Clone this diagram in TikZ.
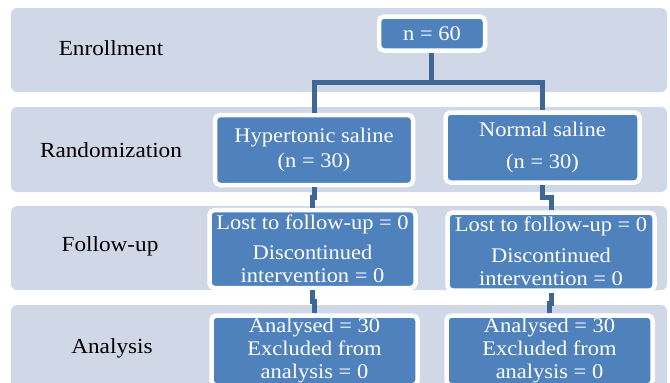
\documentclass[tikz,border=0pt]{standalone}
\usepackage{fontspec}
\setmainfont[FakeStretch=1.08]{Liberation Serif}
\usetikzlibrary{calc}
\definecolor{bandc}{HTML}{D0D7E7}
\definecolor{boxc}{HTML}{4F81BD}
\definecolor{linec}{HTML}{3F6796}
\tikzset{
  band/.style={fill=bandc, rounded corners=6pt},
  lbl/.style={text=black, font=\fontsize{21.5}{24}\selectfont},
  box/.style={fill=boxc, draw=white, line width=4.5pt, rounded corners=5pt,
    text=white, inner sep=0pt, align=center, font=\fontsize{20.8}{23}\selectfont},
  conn/.style={draw=linec, line width=5pt}
}
\begin{document}
\begin{tikzpicture}[x=1pt,y=-1pt]
\useasboundingbox (0,0) rectangle (670,383);
\clip (0,0) rectangle (670,383);
% bands
\fill[band] (11,8) rectangle (667,92);
\fill[band] (11,107) rectangle (667,192);
\fill[band] (11,206) rectangle (667,290);
\fill[band] (11,305) rectangle (667,400);
% stage labels
\node[lbl] (lenr) at (111,48) {Enrollment};
\node[lbl] (lran) at (111,150) {Randomization};
\node[lbl] (lfol) at (110,246) {Follow-up};
\node[lbl] (lana) at (112,348) {Analysis};
% boxes
\node[box, minimum width=106pt, minimum height=34pt] (n60) at (432,33.5) {n = 60};
\node[box, minimum width=198pt, minimum height=70pt] (hyp) at (314,150) {Hypertonic saline\\[2pt](n = 30)};
\node[box, minimum width=194pt, minimum height=70pt] (norm) at (542.5,147.5) {Normal saline\\[9pt](n = 30)};
\node[box, minimum width=206pt, minimum height=78pt] (ful) at (312.5,249) {Lost to follow-up = 0\\[7pt]Discontinued\\intervention = 0};
\node[box, minimum width=207pt, minimum height=78pt] (fur) at (551,251.5) {Lost to follow-up = 0\\[8pt]Discontinued\\intervention = 0};
\node[box, minimum width=206pt, minimum height=70pt] (anl) at (314.5,350.5) {Analysed = 30\\Excluded from\\analysis = 0};
\node[box, minimum width=206pt, minimum height=70pt] (anr) at (549.5,350.5) {Analysed = 30\\Excluded from\\analysis = 0};
% connectors
\coordinate (split) at (431,82);
\draw[conn] (n60.south -| split) -- (split);
\draw[conn] (hyp.north) |- (split) -| (norm.north);
\draw[conn] (hyp.south) |- ($(hyp.south)!0.5!(ful.north)$) -| (ful.north);
\draw[conn] (norm.south) |- ($(norm.south)!0.5!(fur.north)$) -| (fur.north);
\draw[conn] (ful.south) |- ($(ful.south)!0.5!(anl.north)$) -| (anl.north);
\draw[conn] (fur.south) |- ($(fur.south)!0.5!(anr.north)$) -| (anr.north);
\end{tikzpicture}
\end{document}
